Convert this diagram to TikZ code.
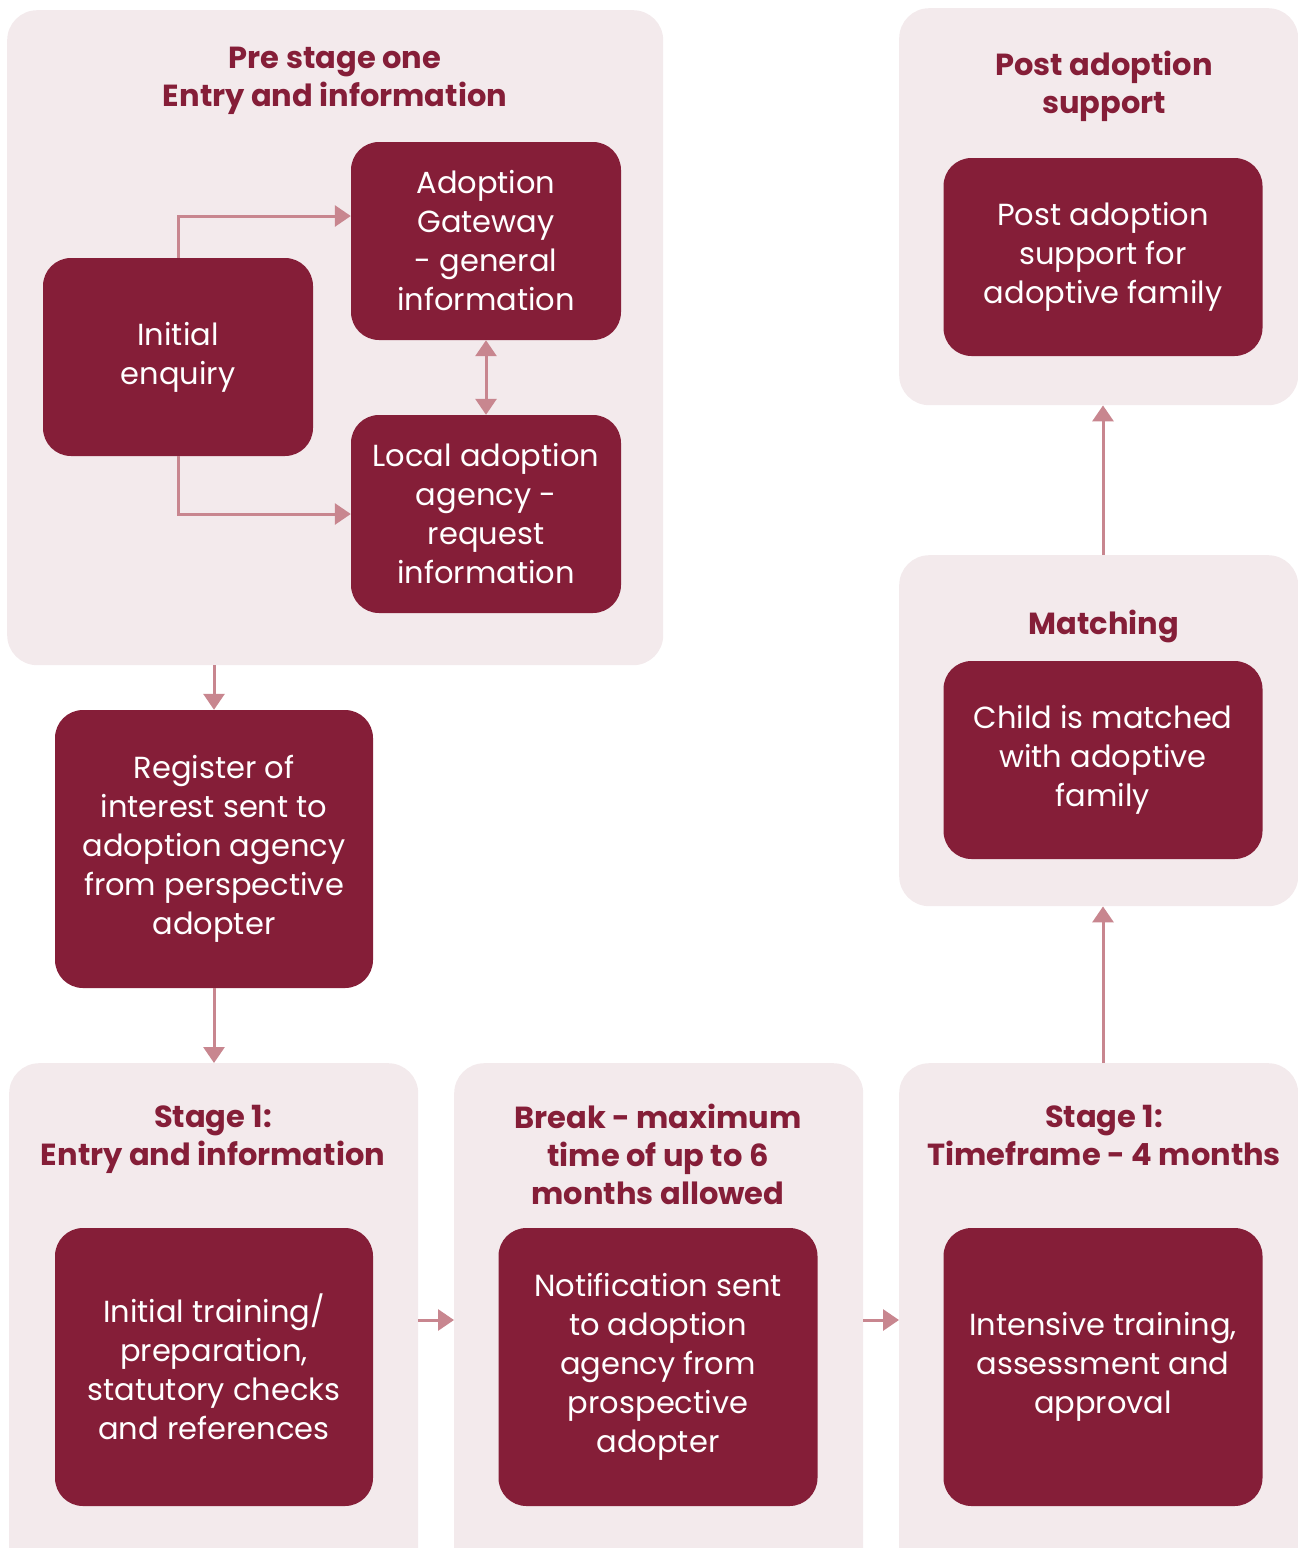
\documentclass[tikz,border=0pt]{standalone}
\usepackage{fontspec}
\setmainfont{Poppins}
\usetikzlibrary{arrows.meta}
\definecolor{wine}{HTML}{851E38}
\definecolor{panelbg}{HTML}{F3EAEC}
\definecolor{arr}{HTML}{C8868F}
\begin{document}
\begin{tikzpicture}[x=1pt,y=-1pt,
  panel/.style={fill=panelbg,draw=none,rounded corners=30,inner sep=0,anchor=north west},
  box/.style={fill=wine,draw=none,rounded corners=28,inner sep=0,text=white,align=center,
    font=\fontsize{30.5}{39}\selectfont},
  ttl/.style={text=wine,align=center,font=\fontsize{30.5}{38}\bfseries},
  conn/.style={draw=arr,line width=3,-{Triangle[width=21,length=16]}},
  conn2/.style={draw=arr,line width=3,{Triangle[width=21,length=16]}-{Triangle[width=21,length=16]}}]
\useasboundingbox (0,0) rectangle (1298,1548);
% panels
\node[panel,minimum width=656,minimum height=655] (pp) at (7,10) {};
\node[panel,minimum width=399,minimum height=397] (pap) at (899,8) {};
\node[panel,minimum width=399,minimum height=351] (mp) at (899,555) {};
\node[panel,minimum width=409,minimum height=530] (s1p) at (9,1063) {};
\node[panel,minimum width=409,minimum height=530] (brp) at (454,1063) {};
\node[panel,minimum width=399,minimum height=530] (tfp) at (899,1063) {};
% titles
\node[ttl] (tpp) at (335,81) {Pre stage one\\Entry and information};
\node[ttl] (tpa) at (1104,86) {Post adoption\\support};
\node[ttl] (tm) at (1104,626) {Matching};
\node[ttl] (ts1) at (213,1139) {Stage 1:\\Entry and information};
\node[ttl] (tbr) at (658,1154) {Break - maximum\\time of up to 6\\months allowed};
\node[ttl] (ttf) at (1104,1135) {Stage 1:\\Timeframe - 4 months};
% boxes
\node[box,minimum width=270,minimum height=198] (ie) at (178,357) {Initial\\enquiry};
\node[box,minimum width=270,minimum height=198] (ag) at (486,241) {Adoption\\Gateway\\- general\\information};
\node[box,minimum width=270,minimum height=198] (la) at (486,514) {Local adoption\\agency -\\request\\information};
\node[box,minimum width=318,minimum height=278] (ri) at (214,849) {Register of\\interest sent to\\adoption agency\\from perspective\\adopter};
\node[box,minimum width=318,minimum height=278] (it) at (214,1367) {Initial training/\\preparation,\\statutory checks\\and references};
\node[box,minimum width=319,minimum height=278] (ns) at (658,1367) {Notification sent\\to adoption\\agency from\\prospective\\adopter};
\node[box,minimum width=319,minimum height=278] (ita) at (1103,1367) {Intensive training,\\assessment and\\approval};
\node[box,minimum width=319,minimum height=198] (cm) at (1103,760) {Child is matched\\with adoptive\\family};
\node[box,minimum width=319,minimum height=198] (pas) at (1103,257) {Post adoption\\support for\\adoptive family};
% connectors
\coordinate (ya) at (0,216);
\coordinate (yb) at (0,514);
\coordinate (yc) at (0,1320);
\draw[conn] (ie.north) |- (ag.west |- ya);
\draw[conn] (ie.south) |- (la.west |- yb);
\draw[conn2] (ag.south) -- (la.north);
\draw[conn] (pp.south -| ri.north) -- (ri.north);
\draw[conn] (ri.south) -- (s1p.north -| ri.south);
\draw[conn] (s1p.east |- yc) -- (brp.west |- yc);
\draw[conn] (brp.east |- yc) -- (tfp.west |- yc);
\draw[conn] (tfp.north -| ita.north) -- (mp.south -| ita.north);
\draw[conn] (mp.north -| cm.north) -- (pap.south -| cm.north);
\end{tikzpicture}
\end{document}
